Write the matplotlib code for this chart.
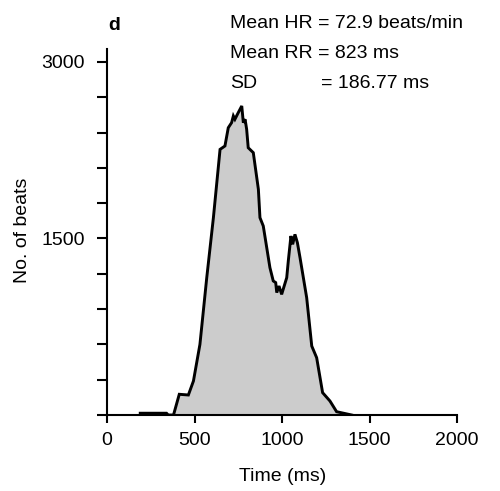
import matplotlib
matplotlib.use("Agg")
import matplotlib.pyplot as plt
from matplotlib.ticker import MultipleLocator

plt.rcParams['font.family'] = ['Liberation Sans', 'DejaVu Sans']

# RR-interval histogram outline (ms vs. number of beats)
time_ms = [190, 340, 350, 380, 413, 465, 494, 531, 570, 608, 646, 674, 693, 712,
           722, 731, 750, 770, 779, 789, 798, 807, 836, 865, 874, 893, 931, 950,
           964, 970, 983, 998, 1027, 1036, 1051, 1061, 1074, 1088, 1103, 1141,
           1170, 1198, 1232, 1274, 1312, 1398]
beats = [15, 15, 0, 0, 176, 170, 289, 600, 1167, 1677, 2257, 2286, 2441, 2484,
         2541, 2513, 2569, 2626, 2484, 2513, 2428, 2271, 2229, 1918, 1677, 1606,
         1252, 1139, 1125, 1040, 1096, 1025, 1167, 1309, 1521, 1450, 1535, 1464,
         1337, 997, 586, 487, 190, 119, 28, 0]

x_ticks = [0, 500, 1000, 1500, 2000]
y_ticks = [0, 1500, 3000]
y_tick_labels = ['', '1500', '3000']

panel_label = 'd'
stats_lines = ['Mean HR = 72.9 beats/min', 'Mean RR = 823 ms', 'SD']
sd_value = '= 186.77 ms'

FS = 14
W, H = 500, 491
fig = plt.figure(figsize=(W / 100, H / 100), dpi=100)
ax = fig.add_axes([107 / W, 1 - 415 / H, 350 / W, 366 / H])

ax.fill_between(time_ms, beats, 0, color='#cccccc', linewidth=0)
ax.plot(time_ms, beats, color='black', lw=2.1, solid_joinstyle='miter')

ax.set_xlim(0, 2000)
ax.set_ylim(0, 3110)
ax.set_xticks(x_ticks)
ax.set_yticks(y_ticks)
ax.set_yticklabels(y_tick_labels)
ax.yaxis.set_minor_locator(MultipleLocator(300))

for s in ['top', 'right']:
    ax.spines[s].set_visible(False)
for s in ['left', 'bottom']:
    ax.spines[s].set_linewidth(1.5)

ax.tick_params(axis='x', which='major', direction='out', length=6, width=1.5,
               labelsize=FS, pad=6)
ax.tick_params(axis='y', which='both', direction='out', length=7, width=1.5,
               labelsize=FS, pad=9)

def px(x, y):
    return x / W, 1 - y / H

fig.text(*px(283, 481), 'Time (ms)', fontsize=FS, ha='center', va='baseline')
fig.text(*px(23, 230), 'No. of beats', fontsize=FS, rotation=90,
         ha='center', va='center')

fig.text(*px(108, 30.5), panel_label, fontsize=FS, fontweight='bold', va='baseline')
baselines = [28.5, 58, 88.5]
for line, yb in zip(stats_lines, baselines):
    fig.text(*px(230, yb), line, fontsize=FS, va='baseline')
fig.text(*px(321, 88.5), sd_value, fontsize=FS, va='baseline')

fig.savefig('out.png', dpi=100)
